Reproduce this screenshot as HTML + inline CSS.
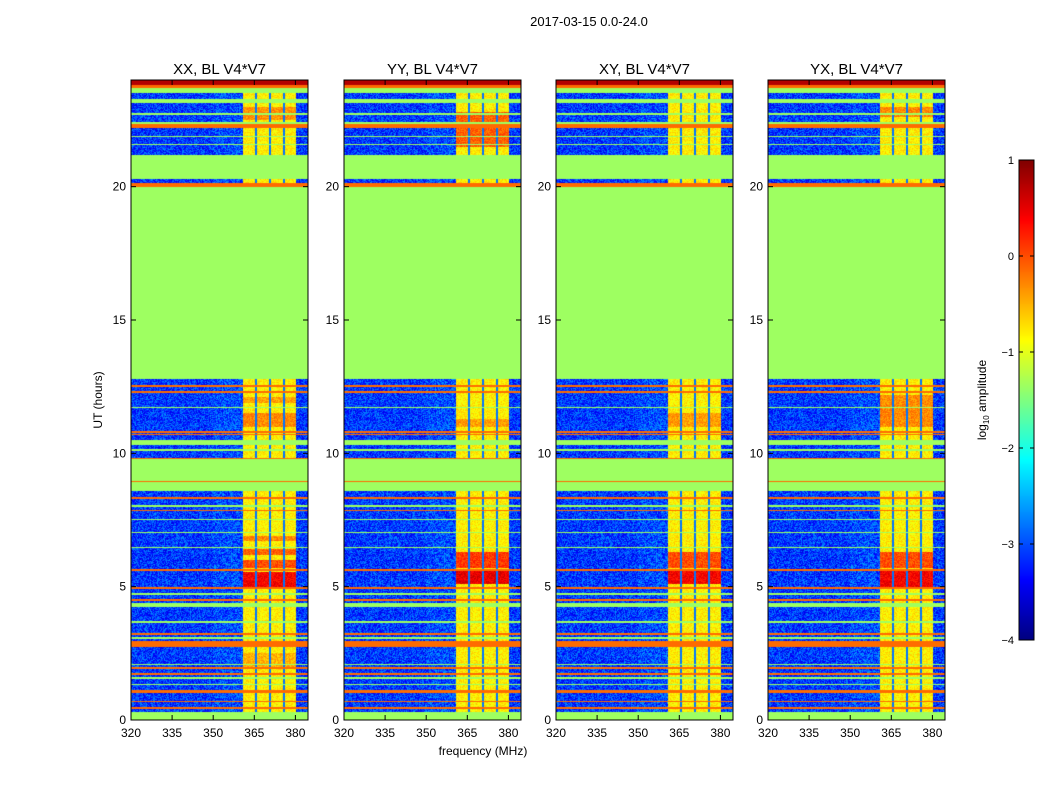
<!DOCTYPE html>
<html><head><meta charset="utf-8">
<style>
body{margin:0;background:#fff;}
#root{position:relative;width:1050px;height:800px;font-family:"Liberation Sans",sans-serif;overflow:hidden;}
canvas{position:absolute;}
svg{position:absolute;left:0;top:0;}
</style></head>
<body>
<div id="root">
<canvas id="c0" width="177" height="640" style="left:131px;top:80px"></canvas>
<canvas id="c1" width="177" height="640" style="left:344px;top:80px"></canvas>
<canvas id="c2" width="177" height="640" style="left:556px;top:80px"></canvas>
<canvas id="c3" width="177" height="640" style="left:768px;top:80px"></canvas>
<canvas id="cb" width="15" height="480" style="left:1019px;top:160px"></canvas>
<svg id="ov" width="1050" height="800"></svg>
</div>
<script>
// ---- data ----
const panelTitles = ["XX, BL V4*V7","YY, BL V4*V7","XY, BL V4*V7","YX, BL V4*V7"];
const xTicks = [320,335,350,365,380];
const yTicks = [0,5,10,15,20];
const cbTicks = [1,0,-1,-2,-3,-4];
const baseLevel = -3.1;        // log10 amplitude of background
const bandLevel = -0.8;        // log10 amplitude in RFI band
const bandRange = [360.9,380.3];
const bandGaps = [365.6,370.7,375.8];
const gapLevel = -2.8;
const O=-0.15, G=-1.35, R=0.75;
const rowBands = [[0,0.3,G],[0.42,0.48,O],[0.66,0.72,O],[1.0,1.12,O],[1.3,1.35,G],[1.55,1.6,G],[1.7,1.75,O],[1.93,1.98,O],[2.05,2.1,G],[2.72,2.97,O],[3.05,3.1,G],[3.2,3.25,O],[3.65,3.7,G],[4.25,4.4,G],[4.47,4.52,O],[4.7,4.75,G],[4.92,4.97,O],[5.58,5.68,O],[6.45,6.5,G],[7.0,7.05,G],[7.5,7.55,G],[7.84,7.89,O],[8.0,8.05,G],[8.3,8.36,O],[8.6,9.8,G],[8.93,8.98,O],[9.78,9.84,O],[10.1,10.15,G],[10.3,10.5,G],[10.68,10.73,O],[10.78,10.83,O],[11.7,11.75,G],[12.28,12.33,O],[12.5,12.55,O],[12.8,20.05,G],[20.0,20.12,O],[20.3,21.2,G],[21.55,21.6,G],[21.85,21.9,G],[22.2,22.35,O],[22.35,22.42,G],[22.7,22.75,G],[23.15,23.3,G],[23.5,23.7,G],[23.7,23.8,O],[23.8,24,R]];
const hotXX = [[5.0,5.55,0.4],[5.7,6.0,0.0],[6.2,6.4,-0.1],[6.7,6.9,-0.3],[11.0,11.5,-0.3],[11.9,12.1,-0.4],[2.0,2.5,-0.5],[22.5,23.0,-0.35]];
const hotYY = [[5.1,5.6,0.5],[5.7,6.3,0.1],[21.5,22.8,-0.1],[11.0,11.3,-0.4]];
const hotXY = [[5.1,5.6,0.4],[5.7,6.3,0.0],[11.0,11.5,-0.4]];
const hotYX = [[5.0,5.6,0.4],[5.7,6.3,0.0],[11.0,12.2,-0.3],[22.6,23.0,-0.3]];
const hots = [hotXX,hotYY,hotXY,hotYX];

// ---- scales ----
const lefts=[131,344,556,768], PW=177, TOP=80, PH=640;
const pxPerMHz=2.74, pxPerHour=PH/24;
const fOfCol=c=>320+(c+0.5)/pxPerMHz;
const hOfRow=r=>24-(r+0.5)/pxPerHour;
const xOf=(i,f)=>lefts[i]+(f-320)*pxPerMHz;
const yOf=h=>TOP+PH-h*pxPerHour;
function jet(v){const t=Math.max(0,Math.min(1,(v+4)/5));const cl=x=>Math.round(255*Math.max(0,Math.min(1,x)));
 return [cl(1.5-Math.abs(4*t-3)),cl(1.5-Math.abs(4*t-2)),cl(1.5-Math.abs(4*t-1))];}
function tex(i,j){let h=(i*374761393+j*668265263)|0;h=(h^(h>>>13))*1274126177|0;return ((h>>>0)%1000)/1000-0.5;}

for(let p=0;p<4;p++){
 const cv=document.getElementById('c'+p),ctx=cv.getContext('2d');
 const img=ctx.createImageData(PW,PH);
 for(let r=0;r<PH;r++){const h=hOfRow(r);
  let rowV=null;for(const b of rowBands){if(h>=b[0]&&h<b[1])rowV=b[2];}
  let hotV=null;for(const b of hots[p]){if(h>=b[0]&&h<b[1])hotV=b[2];}
  for(let c=0;c<PW;c++){const f=fOfCol(c);let v;
   if(rowV!==null)v=rowV;
   else if(f>=bandRange[0]&&f<=bandRange[1]){
     if(bandGaps.some(g=>Math.abs(f-g)<0.28))v=gapLevel;
     else v=(hotV!==null?hotV:bandLevel)+tex(r,c)*0.45;
   } else {v=baseLevel+tex(r,c)*0.9+(f>350&&f<361?0.1:0);}
   const col=jet(v),k=(r*PW+c)*4;img.data[k]=col[0];img.data[k+1]=col[1];img.data[k+2]=col[2];img.data[k+3]=255;}}
 ctx.putImageData(img,0,0);
}
{const cv=document.getElementById('cb'),ctx=cv.getContext('2d');
 for(let r=0;r<480;r++){const v=1-5*(r+0.5)/480;const c=jet(v);ctx.fillStyle=`rgb(${c})`;ctx.fillRect(0,r,15,1);}}

const NS='http://www.w3.org/2000/svg',ov=document.getElementById('ov');
function mk(tag,attrs,txt){const e=document.createElementNS(NS,tag);for(const k in attrs)e.setAttribute(k,attrs[k]);if(txt!==undefined)e.textContent=txt;ov.appendChild(e);return e;}
for(let p=0;p<4;p++){
 const L=lefts[p];
 const fr=mk('rect',{x:L,y:TOP,width:PW,height:PH,fill:'none',stroke:'#000','stroke-width':1});
 
 
 const t=mk('text',{x:L+PW/2,y:74,'text-anchor':'middle','font-size':15},panelTitles[p]);
 
 
 for(const f of xTicks){const x=xOf(p,f);
  mk('line',{x1:x,x2:x,y1:TOP+PH,y2:TOP+PH-5,stroke:'#000'});
  mk('line',{x1:x,x2:x,y1:TOP,y2:TOP+5,stroke:'#000'});
  const tl=mk('text',{x:x,y:TOP+PH+17,'text-anchor':'middle','font-size':12},String(f));
  
  }
 for(const h of yTicks){const y=yOf(h);
  mk('line',{x1:L,x2:L+5,y1:y,y2:y,stroke:'#000'});
  mk('line',{x1:L+PW,x2:L+PW-5,y1:y,y2:y,stroke:'#000'});
  const tl=mk('text',{x:L-5,y:y+4,'text-anchor':'end','font-size':12},String(h));
  
  }
}
const st=mk('text',{x:589,y:26,'text-anchor':'middle','font-size':13},'2017-03-15 0.0-24.0');


const xl=mk('text',{x:483,y:755,'text-anchor':'middle','font-size':12},'frequency (MHz)');


const yl=mk('text',{x:102,y:400,'text-anchor':'middle','font-size':12,transform:'rotate(-90 102 400)'},'UT (hours)');


const cf=mk('rect',{x:1019,y:160,width:15,height:480,fill:'none',stroke:'#000'});


for(const v of cbTicks){const y=160+(1-v)*96;
 mk('line',{x1:1019,x2:1023,y1:y,y2:y,stroke:'#000'});
 mk('line',{x1:1030,x2:1034,y1:y,y2:y,stroke:'#000'});
 const tl=mk('text',{x:1014,y:y+4,'text-anchor':'end','font-size':11},v<0?'\u2212'+(-v):String(v));
 
 }
const cl=mk('text',{x:986,y:400,'text-anchor':'middle','font-size':12,transform:'rotate(-90 986 400)'});


cl.innerHTML='log<tspan font-size="8" dy="3">10</tspan><tspan dy="-3"> amplitude</tspan>';
</script>
</body></html>
